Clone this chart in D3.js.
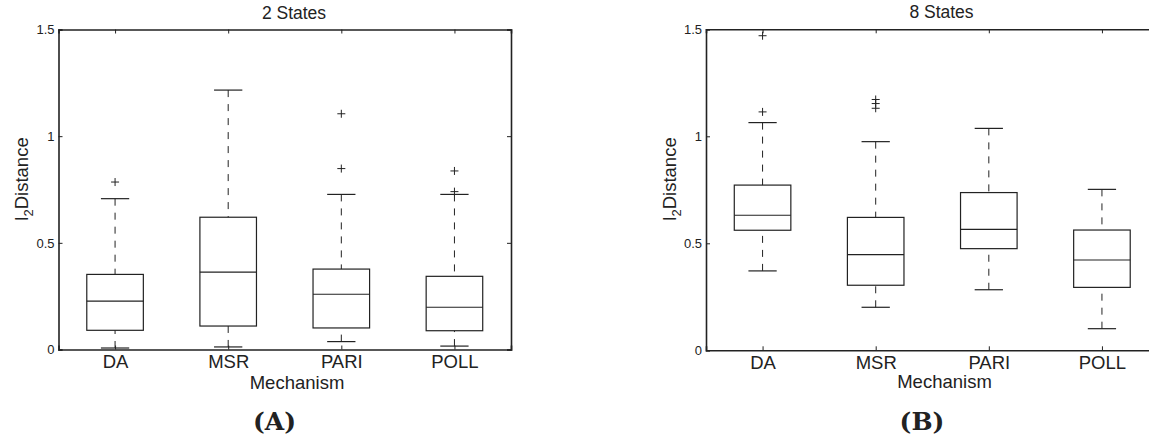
<!DOCTYPE html>
<html>
<head>
<meta charset="utf-8">
<script src="https://cdn.jsdelivr.net/npm/d3@7"></script>
<style>
  html, body { margin: 0; padding: 0; background: #fff; }
  svg { display: block; }
  text { font-family: "Liberation Sans", Arial, sans-serif; fill: #222; }
</style>
</head>
<body>
<svg id="chart" width="1149" height="438"></svg>
<script>
// ---- data ----
const categories = ["DA", "MSR", "PARI", "POLL"];
const yTicks = [0, 0.5, 1, 1.5];

// Panel A: 2 States
const aTitle = "2 States";
const aLowWhisker  = [0.007, 0.012, 0.037, 0.016];
const aQ1          = [0.090, 0.110, 0.101, 0.088];
const aMedian      = [0.227, 0.363, 0.259, 0.198];
const aQ3          = [0.352, 0.620, 0.377, 0.343];
const aHighWhisker = [0.707, 1.216, 0.727, 0.727];
const aOutliers    = [[0.785], [], [0.848, 1.105], [0.740, 0.837]];

// Panel B: 8 States
const bTitle = "8 States";
const bLowWhisker  = [0.371, 0.201, 0.283, 0.101];
const bQ1          = [0.561, 0.304, 0.475, 0.294];
const bMedian      = [0.631, 0.447, 0.565, 0.422];
const bQ3          = [0.772, 0.621, 0.737, 0.562];
const bHighWhisker = [1.064, 0.975, 1.037, 0.752];
const bOutliers    = [[1.114, 1.470], [1.131, 1.153, 1.172], [], []];

const xLabel = "Mechanism";

// ---- drawing ----
const svg = d3.select("#chart");
const ink = "#222";

function panel(opts) {
  const {left, top, width, height, title, low, q1, med, q3, high, outliers, tag} = opts;
  const g = svg.append("g").attr("transform", `translate(${left},${top})`);
  const x = d3.scaleLinear().domain([0.5, 4.5]).range([0, width]);
  const y = d3.scaleLinear().domain([0, 1.5]).range([height, 0]);
  const idx = d3.range(categories.length);
  const boxHalf = (x(1.25) - x(1));
  const capHalf = boxHalf / 2;

  // axes with inward ticks
  const yAxis = d3.axisLeft(y).tickValues(yTicks).tickSize(-4).tickPadding(4).tickFormat(d => String(d));
  const yAxisR = d3.axisRight(y).tickValues(yTicks).tickSize(-4).tickFormat("");
  const xAxis = d3.axisBottom(x).tickValues([1,2,3,4]).tickSize(-4).tickPadding(5.5).tickFormat(i => categories[i-1]);
  const xAxisT = d3.axisTop(x).tickValues([1,2,3,4]).tickSize(-4).tickFormat("");

  const gy = g.append("g").call(yAxis);
  gy.selectAll("text").style("font-size", "13px").attr("fill", ink);
  const gyr = g.append("g").attr("transform", `translate(${width},0)`).call(yAxisR);
  const gx = g.append("g").attr("transform", `translate(0,${height})`).call(xAxis);
  gx.selectAll("text").style("font-size", "18.5px").attr("fill", ink);
  const gxt = g.append("g").call(xAxisT);
  [gy, gyr, gx, gxt].forEach(a => {
    a.select(".domain").attr("stroke", ink).attr("stroke-width", 1.6);
    a.selectAll(".tick line").attr("stroke", ink).attr("stroke-width", 1);
  });

  // whiskers (dashed)
  const wh = g.append("g").attr("stroke", ink).attr("stroke-width", 1).attr("stroke-dasharray", "7,7");
  wh.selectAll(".wu").data(idx).join("line")
    .attr("x1", i => x(i+1)).attr("x2", i => x(i+1))
    .attr("y1", i => y(high[i])).attr("y2", i => y(q3[i]));
  wh.selectAll(".wl").data(idx).join("line")
    .attr("x1", i => x(i+1)).attr("x2", i => x(i+1))
    .attr("y1", i => y(low[i])).attr("y2", i => y(q1[i]));

  // caps
  const caps = g.append("g").attr("stroke", ink).attr("stroke-width", 1.2);
  caps.selectAll(".cu").data(idx).join("line")
    .attr("x1", i => x(i+1) - capHalf).attr("x2", i => x(i+1) + capHalf)
    .attr("y1", i => y(high[i])).attr("y2", i => y(high[i]));
  caps.selectAll(".cl").data(idx).join("line")
    .attr("x1", i => x(i+1) - capHalf).attr("x2", i => x(i+1) + capHalf)
    .attr("y1", i => y(low[i])).attr("y2", i => y(low[i]));

  // boxes
  g.append("g").selectAll("rect").data(idx).join("rect")
    .attr("x", i => x(i+1) - boxHalf).attr("width", 2*boxHalf)
    .attr("y", i => y(q3[i])).attr("height", i => y(q1[i]) - y(q3[i]))
    .attr("fill", "none").attr("stroke", ink).attr("stroke-width", 1.2);

  // medians
  g.append("g").selectAll("line").data(idx).join("line")
    .attr("x1", i => x(i+1) - boxHalf).attr("x2", i => x(i+1) + boxHalf)
    .attr("y1", i => y(med[i])).attr("y2", i => y(med[i]))
    .attr("stroke", ink).attr("stroke-width", 1.2);

  // outliers (+)
  const pts = [];
  outliers.forEach((arr, i) => arr.forEach(v => pts.push({i, v})));
  const s = 4;
  const og = g.append("g").attr("stroke", ink).attr("stroke-width", 1);
  og.selectAll("path").data(pts).join("path")
    .attr("d", d => {
      const cx = x(d.i+1), cy = y(d.v);
      return `M${cx - s},${cy}H${cx + s}M${cx},${cy - s}V${cy + s}`;
    }).attr("fill", "none");

  // title
  g.append("text").attr("x", 235.5).attr("y", -11).attr("text-anchor", "middle")
    .style("font-size", "17.5px").text(title);
  // x label
  g.append("text").attr("x", 238.5).attr("y", 388.5 - top).attr("text-anchor", "middle")
    .style("font-size", "18.5px").text(xLabel);
  // y label
  const yl = g.append("text")
    .attr("transform", `translate(-30.5,${179 - top}) rotate(-90)`)
    .attr("text-anchor", "middle").style("font-size", "18.5px");
  yl.append("tspan").text("l");
  yl.append("tspan").attr("dy", 5).style("font-size", "13px").text("2");
  yl.append("tspan").attr("dy", -5).text("Distance");
  // panel tag
  g.append("text").attr("x", 216).attr("y", 430 - top).attr("text-anchor", "middle")
    .style("font-family", "'DejaVu Serif', serif").style("font-weight", "bold")
    .style("font-size", "25px").text(tag);
}

panel({left: 58.5, top: 29.5, width: 452.5, height: 320, title: aTitle,
  low: aLowWhisker, q1: aQ1, med: aMedian, q3: aQ3, high: aHighWhisker, outliers: aOutliers, tag: "(A)"});
panel({left: 706, top: 29.3, width: 452.5, height: 321, title: bTitle,
  low: bLowWhisker, q1: bQ1, med: bMedian, q3: bQ3, high: bHighWhisker, outliers: bOutliers, tag: "(B)"});
</script>
</body>
</html>
